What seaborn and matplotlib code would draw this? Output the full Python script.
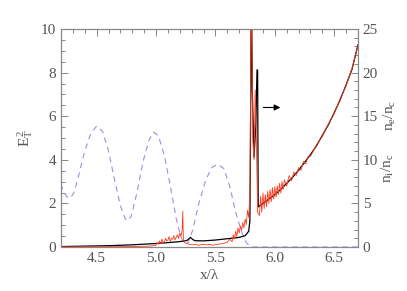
import matplotlib
matplotlib.use("Agg")
import matplotlib.pyplot as plt
import seaborn as sns
import pandas as pd
from matplotlib.ticker import MultipleLocator

# laser intensity E_T^2 (left axis)
field_x = [4.20, 4.22, 4.25, 4.28, 4.31, 4.35, 4.40, 4.45, 4.50, 4.55, 4.60, 4.65,
           4.70, 4.74, 4.76, 4.79, 4.84, 4.89, 4.94, 4.98, 5.02, 5.07, 5.12, 5.17,
           5.21, 5.24, 5.27, 5.31, 5.36, 5.42, 5.47, 5.52, 5.57, 5.62, 5.67, 5.72,
           5.76, 5.80, 6.70]
field_e2 = [2.90, 2.55, 2.30, 2.25, 2.50, 3.30, 4.40, 5.20, 5.55, 5.30, 4.40, 3.10,
            1.90, 1.30, 1.20, 1.40, 2.50, 3.90, 4.90, 5.27, 5.10, 4.20, 2.80, 1.30,
            0.45, 0.15, 0.20, 0.80, 2.00, 3.10, 3.65, 3.80, 3.60, 2.80, 1.60, 0.70,
            0.20, 0.00, 0.00]

# electron density n_e/n_c (right axis)
elec_x = [4.20, 4.40, 4.60, 4.80, 5.00, 5.10, 5.20, 5.26, 5.29, 5.31, 5.33, 5.40,
          5.50, 5.60, 5.70, 5.75, 5.78, 5.79, 5.795, 5.80, 5.805, 5.81, 5.825, 5.84,
          5.85, 5.855, 5.86, 5.90, 5.95, 6.00, 6.05, 6.10, 6.15, 6.20, 6.25, 6.30,
          6.35, 6.40, 6.45, 6.50, 6.55, 6.60, 6.65, 6.70]
elec_n = [0.05, 0.10, 0.15, 0.25, 0.40, 0.50, 0.62, 0.75, 1.10, 0.85, 0.72, 0.70,
          0.80, 0.95, 1.10, 1.30, 1.80, 3.00, 12.0, 27.0, 27.0, 18.0, 10.3, 14.0,
          20.3, 20.3, 4.60, 5.00, 5.50, 6.00, 6.60, 7.30, 8.00, 8.80, 9.70, 10.6,
          11.6, 12.8, 14.0, 15.4, 16.9, 18.6, 20.4, 23.2]

# ion density n_i/n_c (right axis)
ion_x = [4.20, 4.50, 4.80, 4.95,
         5.00, 5.01, 5.02, 5.03, 5.04, 5.05, 5.06, 5.07, 5.08, 5.09, 5.10, 5.11,
         5.12, 5.13, 5.14, 5.15, 5.16, 5.17, 5.18, 5.19, 5.20, 5.21, 5.22, 5.225,
         5.23, 5.24, 5.27, 5.30, 5.33, 5.36, 5.39, 5.42, 5.45, 5.48, 5.51, 5.54,
         5.57, 5.60, 5.62, 5.64, 5.65, 5.66, 5.67, 5.68, 5.69, 5.70, 5.71, 5.72,
         5.73, 5.74, 5.75, 5.76, 5.77, 5.78, 5.79, 5.80, 5.805, 5.815, 5.825, 5.835,
         5.845, 5.855, 5.87, 5.88, 5.89, 5.90, 5.91, 5.92, 5.93, 5.94, 5.95, 5.96,
         5.97, 5.98, 5.99, 6.00, 6.01, 6.02, 6.03, 6.04, 6.05, 6.06, 6.07, 6.08,
         6.10, 6.12, 6.14, 6.16, 6.18, 6.20, 6.22, 6.24, 6.26, 6.28, 6.30, 6.35,
         6.40, 6.45, 6.50, 6.55, 6.60, 6.65, 6.70]
ion_n = [0.02, 0.03, 0.05, 0.10,
         0.20, 0.50, 0.30, 0.70, 0.40, 0.90, 0.50, 0.60, 1.00, 0.70, 0.80, 1.20,
         0.60, 1.00, 0.90, 1.30, 0.80, 1.10, 1.40, 1.00, 1.60, 1.20, 2.00, 4.10,
         1.00, 0.50, 0.35, 0.25, 0.30, 0.20, 0.30, 0.25, 0.30, 0.20, 0.30, 0.35,
         0.40, 0.55, 0.90, 0.60, 1.40, 0.90, 1.80, 1.20, 2.20, 1.60, 2.40, 1.90,
         2.80, 2.20, 3.20, 2.60, 4.20, 3.40, 6.00, 27.0, 27.0, 12.0, 10.0, 18.0,
         12.0, 4.00, 3.60, 5.80, 4.00, 6.20, 4.40, 6.00, 4.60, 6.40, 5.00, 6.60,
         5.20, 6.80, 5.50, 6.90, 5.70, 7.00, 6.00, 7.30, 6.20, 7.50, 6.60, 7.70,
         7.00, 8.20, 7.60, 8.60, 8.20, 9.10, 8.80, 9.80, 9.50, 10.4, 10.4, 11.7,
         12.7, 14.1, 15.3, 17.0, 18.5, 20.5, 23.1]

# arrow pointing to the right-hand axis
arrow_start = (5.88, 6.4)
arrow_end = (6.07, 6.4)

sns.set_style("white")
plt.rcParams['font.family'] = ['Liberation Serif', 'DejaVu Serif']
plt.rcParams['mathtext.fontset'] = 'stix'

text_col = '#555555'
spine_col = '#888888'

fig = plt.figure(figsize=(4.07, 2.91), dpi=100)
ax = fig.add_axes([61 / 407, 1 - 247 / 291, 297 / 407, 218 / 291])
ax2 = ax.twinx()

sns.lineplot(x=field_x, y=field_e2, ax=ax, color='#a58ae0', lw=0.8,
             linestyle=(0, (5, 4)), estimator=None, sort=False)
sns.lineplot(x=elec_x, y=elec_n, ax=ax2, color='black', lw=0.9,
             estimator=None, sort=False)
sns.lineplot(x=ion_x, y=ion_n, ax=ax2, color='#ff3a1c', lw=0.6,
             estimator=None, sort=False)

ax.annotate('', xy=arrow_end, xytext=arrow_start,
            arrowprops=dict(arrowstyle='-|>', color='black', lw=0.8,
                            mutation_scale=9))

ax.set_xlim(4.2, 6.7)
ax.set_ylim(0, 10)
ax2.set_ylim(0, 25)

ax.xaxis.set_major_locator(MultipleLocator(0.5))
ax.xaxis.set_minor_locator(MultipleLocator(0.1))
ax.yaxis.set_major_locator(MultipleLocator(2))
ax.yaxis.set_minor_locator(MultipleLocator(0.5))
ax2.yaxis.set_major_locator(MultipleLocator(5))
ax2.yaxis.set_minor_locator(MultipleLocator(1))

ax.tick_params(which='both', direction='in', top=True, right=False,
               colors=spine_col, labelcolor=text_col, labelsize=11)
ax.tick_params(which='major', length=5, width=0.7)
ax.tick_params(which='minor', length=3, width=0.7)
ax2.tick_params(which='both', direction='in', colors=spine_col,
                labelcolor=text_col, labelsize=11)
ax2.tick_params(which='major', length=5, width=0.7)
ax2.tick_params(which='minor', length=3, width=0.7)

for a in (ax, ax2):
    for s in a.spines.values():
        s.set_visible(True)
        s.set_color(spine_col)
        s.set_linewidth(0.8)

ax.set_xlabel('x/λ', color=text_col, fontsize=11, labelpad=3)
ax.set_ylabel(r'$\mathregular{E_T^{\,2}}$', color=text_col, fontsize=11, labelpad=4)
ax2.set_ylabel('')

fig.text(390 / 407, 1 - 115 / 291, r'$\mathregular{n_e/n_c}$', rotation=90,
         ha='center', va='center', color=text_col, fontsize=11)
fig.text(388 / 407, 1 - 168 / 291, r'$\mathregular{n_i/n_c}$', rotation=90,
         ha='center', va='center', color=text_col, fontsize=11)

fig.savefig('out.png', dpi=100)
